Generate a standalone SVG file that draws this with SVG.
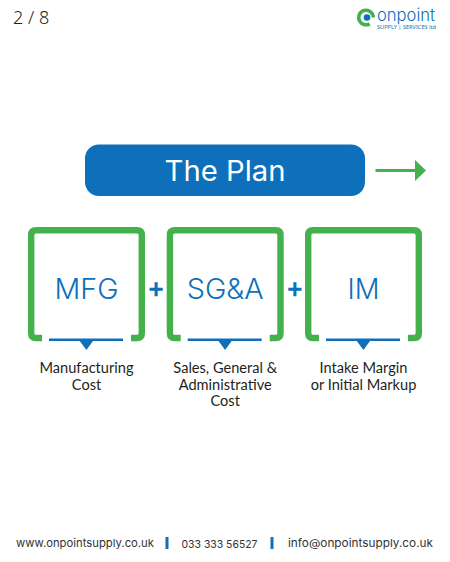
<svg xmlns="http://www.w3.org/2000/svg" width="450" height="562" viewBox="0 0 450 562">
<style>
text{font-family:"Lato","Noto Sans","Liberation Sans",sans-serif}
.br{fill:none;stroke:#45b14d;stroke-width:6.4;stroke-linejoin:round}
.ul{fill:none;stroke:#0e6fba;stroke-width:2.6}
.tri{fill:#0e6fba}
.big{font-family:"Inter","Noto Sans",sans-serif;font-size:28px;font-weight:300;fill:#0e6fba;text-anchor:middle}
.lab{font-size:14.600px;fill:#231f20;text-anchor:middle}
.plus{font-size:26px;font-weight:700;fill:#0e6fba;stroke:#0e6fba;stroke-width:.4;text-anchor:middle}
.foot{font-family:"Inter","Noto Sans",sans-serif;font-size:11px;fill:#333}
</style>
<defs>
<g id="frame">
<path class="br" d="M42 338H36Q31.200 338 31.200 333.200V235Q31.200 230.200 36 230.200H137Q141.800 230.200 141.800 235V333.200Q141.800 338 137 338H131"/>
<path class="ul" d="M49 339.700H123"/>
<path class="tri" d="M79.800 341H93L86.400 350Z"/>
</g>
</defs>
<g id="page-number"><text x="13" y="24" style="font-family:'Noto Sans',sans-serif;font-size:18px;font-weight:300;fill:#231f20">2 / 8</text></g>
<g id="logo">
<circle cx="366" cy="17.500" r="7.300" fill="none" stroke="#45b14d" stroke-width="3.600" stroke-dasharray="38 8" transform="rotate(60 366 17.500)"/>
<circle cx="367" cy="17.500" r="3.300" fill="#0e6fba"/>
<text x="377" y="21" textLength="58" lengthAdjust="spacingAndGlyphs" style="font-size:17px;font-family:Inter,'Noto Sans',sans-serif;font-weight:300;fill:#0e6fba">onpoint</text>
<text x="377" y="29" textLength="59" lengthAdjust="spacingAndGlyphs" style="font-size:5px;font-family:'Noto Sans',sans-serif;fill:#0e6fba">SUPPLY | SERVICES  ltd</text>
</g>
<g id="title">
<rect x="85" y="144.500" width="280" height="51.500" rx="14" fill="#0e6fba"/>
<text x="225" y="180.500" text-anchor="middle" textLength="121" lengthAdjust="spacingAndGlyphs" style="font-size:28px;font-family:Inter,'Noto Sans',sans-serif;font-weight:400;fill:#fff">The Plan</text>
</g>
<g id="connectors">
<path d="M375.500 170.500H416" fill="none" stroke="#45b14d" stroke-width="3"/>
<path d="M415 160L426 170.500L415 181Z" fill="#45b14d"/>
<text class="plus" x="156" y="297.500">+</text>
<text class="plus" x="294.700" y="297.500">+</text>
</g>
<g id="node-mfg">
<use href="#frame"/>
<text class="big" x="86.500" y="298.500" textLength="64" lengthAdjust="spacingAndGlyphs">MFG</text>
<text class="lab" x="86.500" y="373">Manufacturing</text>
<text class="lab" x="86.500" y="390">Cost</text>
</g>
<g id="node-sga">
<use href="#frame" x="138.700"/>
<text class="big" x="225.200" y="298.500" textLength="77" lengthAdjust="spacingAndGlyphs">SG&amp;A</text>
<text class="lab" x="225.200" y="373">Sales, General &amp;</text>
<text class="lab" x="225.200" y="389.500">Administrative</text>
<text class="lab" x="225.200" y="405.500">Cost</text>
</g>
<g id="node-im">
<use href="#frame" x="277"/>
<text class="big" x="363.500" y="298.500" textLength="32" lengthAdjust="spacingAndGlyphs">IM</text>
<text class="lab" x="363.500" y="373">Intake Margin</text>
<text class="lab" x="363.500" y="390">or Initial Markup</text>
</g>
<g id="footer">
<text class="foot" x="16" y="547" textLength="138" lengthAdjust="spacingAndGlyphs">www.onpointsupply.co.uk</text>
<rect x="165.500" y="537" width="3" height="12" fill="#0e6fba"/>
<text class="foot" x="181.500" y="548" textLength="76" lengthAdjust="spacingAndGlyphs">033 333 56527</text>
<rect x="270.500" y="537" width="3" height="12" fill="#0e6fba"/>
<text class="foot" x="288" y="547" textLength="145" lengthAdjust="spacingAndGlyphs">info@onpointsupply.co.uk</text>
</g>
</svg>
